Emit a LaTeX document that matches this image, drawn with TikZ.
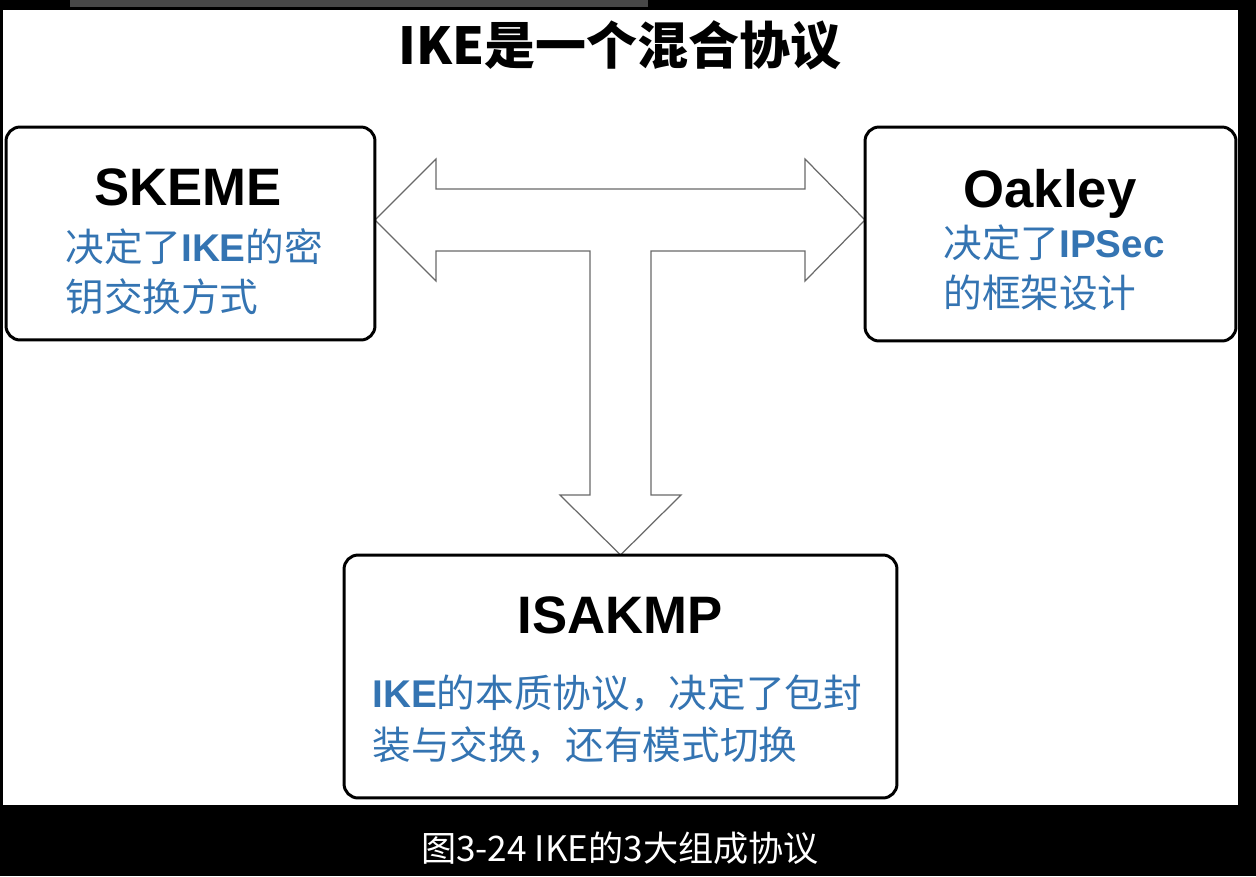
\documentclass[tikz,border=0pt]{standalone}
\usepackage{fontspec}
\setmainfont{Liberation Sans}
\newfontfamily\cjk{Noto Sans CJK SC}
\usepackage{tikz}
\definecolor{descBlue}{RGB}{52,116,178}
\definecolor{arrowGray}{RGB}{105,105,105}
\definecolor{barGray}{RGB}{72,72,72}
\newcommand{\en}[1]{{\rmfamily\bfseries #1}}

\begin{document}
\begin{tikzpicture}[x=0.02cm,y=-0.02cm,
    box/.style={shape=rectangle,draw=black,line width=1.7pt,rounded corners=8pt,fill=white},
    heading/.style={anchor=base,font=\fontsize{30}{36}\selectfont\bfseries},
    desc/.style={anchor=west,align=left,inner sep=0pt,text=descBlue,font=\cjk\fontsize{22}{28.5}\selectfont}]
    \useasboundingbox (0,0) rectangle (1256,876);
    \fill[black] (0,0) rectangle (1256,876);
    \fill[white] (3,10) rectangle (1238,805);
    \fill[barGray] (70,0) rectangle (648,7);

    \node[font=\cjk\bfseries\fontsize{29}{34}\selectfont] (title) at (620,45) {IKE是一个混合协议};

    \draw[arrowGray,line width=0.7pt,fill=white] (375,220) -- (436,159) -- (436,189) -- (805,189) -- (805,159) -- (865,220)
        -- (805,281) -- (805,251) -- (651,251) -- (651,495) -- (681,495) -- (620.5,555) -- (560,495) -- (590,495)
        -- (590,251) -- (436,251) -- (436,281) -- cycle;

    \node[box,minimum width=7.38cm,minimum height=4.26cm] (skeme) at (190.5,233.5) {};
    \node[box,minimum width=7.42cm,minimum height=4.28cm] (oakley) at (1050.5,234) {};
    \node[box,minimum width=11.06cm,minimum height=4.86cm] (isakmp) at (620.5,676.5) {};

    \node[heading] (skemeName) at (188,205) {SKEME};
    \node[desc] (skemeDesc) at (65,272) {决定了\en{IKE}的密\\钥交换方式};

    \node[heading] (oakleyName) at (1050,207) {Oakley};
    \node[desc] (oakleyDesc) at (943,267.5) {决定了\en{IPSec}\\的框架设计};

    \node[heading] (isakmpName) at (620,633) {ISAKMP};
    \node[desc,font=\cjk\fontsize{22}{29.5}\selectfont] (isakmpDesc) at (372,719) {\en{IKE}的本质协议，决定了包封\\装与交换，还有模式切换};

    \node[text=white,font=\cjk\fontsize{20}{24}\selectfont] (caption) at (620,848) {图3-24 IKE的3大组成协议};
\end{tikzpicture}
\end{document}
